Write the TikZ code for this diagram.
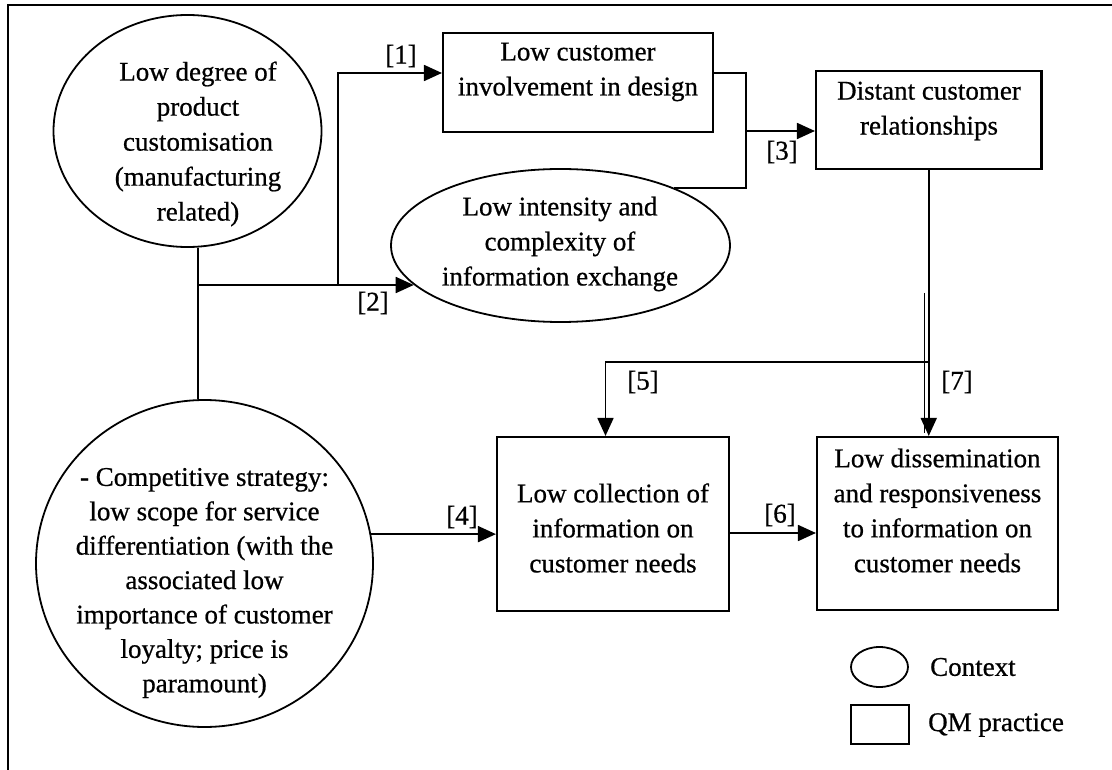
\documentclass[tikz,border=0pt]{standalone}
\usepackage{fontspec}
\setmainfont[FakeBold=0.7]{Liberation Serif}
\usetikzlibrary{arrows.meta,shapes.geometric}

\begin{document}
\begin{tikzpicture}[x=1pt,y=-1pt,
  ctx/.style={draw, ellipse, line width=1.8pt, inner sep=0pt},
  qm/.style={draw, rectangle, line width=2.1pt, inner sep=0pt},
  txt/.style={align=center, font=\fontsize{27}{35}\selectfont, inner sep=0pt},
  lbl/.style={font=\fontsize{27}{30}\selectfont, inner sep=0pt},
  conn/.style={line width=1.8pt},
  arr/.style={conn, -{Triangle[length=18pt,width=16pt]}},
]
\useasboundingbox (0,0) rectangle (1112,770);

% frame (top and left edges)
\coordinate (fbl) at (8,770);
\coordinate (ftl) at (8,5);
\coordinate (ftr) at (1112,5);
\draw[line width=2pt] (fbl) -- (ftl) -- (ftr);

% context ellipses
\node[ctx, minimum width=268pt, minimum height=232pt] (e1) at (187.5,131) {};
\node[txt] (e1t) at (198,144) {Low degree of\\product\\customisation\\(manufacturing\\related)};

\node[ctx, minimum width=339pt, minimum height=153pt] (e2) at (560.5,245.5) {};
\node[txt] (e2t) at (560,244) {Low intensity and\\complexity of\\information exchange};

\node[ctx, minimum width=337pt, minimum height=327pt] (c2) at (204.5,563.5) {};
\node[txt, font=\fontsize{27}{34.4}\selectfont] (c2t) at (204.5,583) {- Competitive strategy:\\low scope for service\\differentiation (with the\\associated low\\importance of customer\\loyalty; price is\\paramount)};

% QM practice boxes
\node[qm, minimum width=270pt, minimum height=99pt] (b1) at (578,82.5) {};
\node[txt] (b1t) at (578,72) {Low customer\\involvement in design};

\node[qm, minimum width=225.5pt, minimum height=98pt] (dist) at (928.75,120) {};
\node[txt] (distt) at (929,111) {Distant customer\\relationships};

\node[qm, minimum width=232pt, minimum height=174pt] (b2) at (613,524) {};
\node[txt] (b2t) at (613,528) {Low collection of\\information on\\customer needs};

\node[qm, minimum width=241pt, minimum height=173pt] (b3) at (937.5,523.5) {};
\node[txt] (b3t) at (937.5,510.5) {Low dissemination\\and responsiveness\\to information on\\customer needs};

% connectors
\coordinate (j0) at (198,285);
\coordinate (jb) at (338,285);
\coordinate (k1) at (338,73);
\coordinate (m1) at (746,73);
\coordinate (m3) at (746,131);
\coordinate (a4) at (0,533);
\coordinate (J) at (928.75,362);
\coordinate (J5) at (605.5,362);

\draw[conn] (j0 |- e1.south) -- (j0) -- (j0 |- c2.north);
\draw[arr] (j0) -- (j0 -| e2.195.2);
\draw[arr] (jb) -- (k1) -- (k1 -| b1.west);
\draw[conn] (b1.east |- m1) -- (m1) |- (e2.27.2);
\draw[arr] (m3) -- (m3 -| dist.west);
\draw[arr] (c2.10.4) -- (c2.10.4 -| b2.west);
\draw[arr] (b2.east |- a4) -- (b3.west |- a4);
\draw[arr] (dist.south) -- (dist.south |- b3.north);
\draw[arr] (J) -- (J5) -- (J5 |- b2.north);
\coordinate (d1) at (924,293);
\coordinate (d2) at (924,433);
\draw[line width=0.8pt] (d1) -- (d2);

% connector labels
\node[lbl] (l1) at (401,56) {[1]};
\node[lbl] (l2) at (373,303) {[2]};
\node[lbl] (l3) at (782,152) {[3]};
\node[lbl] (l4) at (462,517) {[4]};
\node[lbl] (l5) at (643,382) {[5]};
\node[lbl] (l6) at (780,515) {[6]};
\node[lbl] (l7) at (957,382) {[7]};

% legend
\node[ctx, minimum width=57pt, minimum height=40pt] (lc) at (879.5,667) {};
\node[txt, anchor=west] (lct) at (930,667) {Context};
\node[qm, minimum width=58pt, minimum height=39pt] (lq) at (880,724.5) {};
\node[txt, anchor=west] (lqt) at (928,725) {QM practice};
\end{tikzpicture}
\end{document}
